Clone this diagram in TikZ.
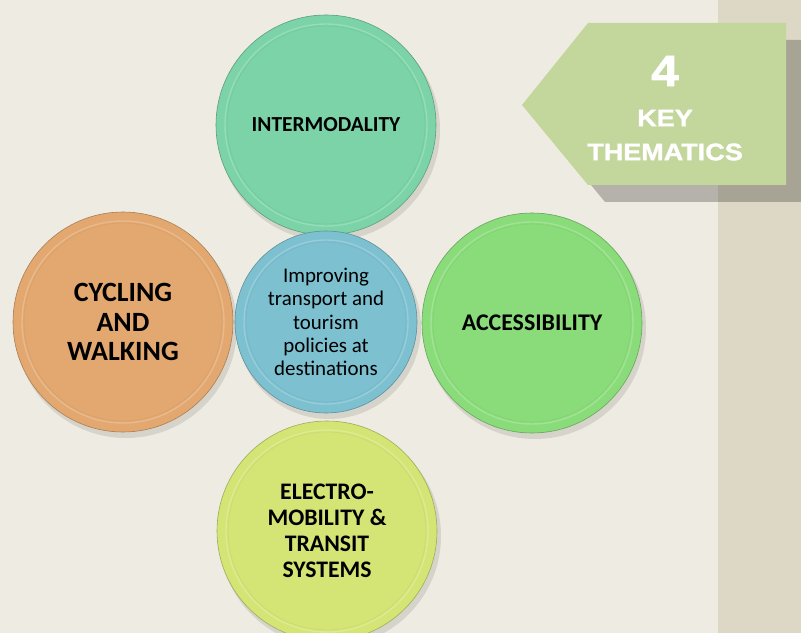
\documentclass[tikz,border=0pt]{standalone}
\usepackage{fontspec}
\setmainfont{Carlito}
\newfontfamily\arialf{Liberation Sans}[FakeStretch=1.13,FakeBold=1.5]
\definecolor{bgc}{HTML}{EEEBE2}
\definecolor{stripc}{HTML}{DDD8C5}
\definecolor{arrowc}{HTML}{C3D69B}
\definecolor{cmint}{HTML}{7BD3A7}
\definecolor{cblue}{HTML}{7DC0D0}
\definecolor{corange}{HTML}{E3A870}
\definecolor{cgreen}{HTML}{8ADC7A}
\definecolor{cyellow}{HTML}{D4E576}
\tikzset{
  bubblenode/.style={circle, inner sep=0pt, align=center, text=black},
  arrowtext/.style={text=white, font=\arialf\bfseries, align=center},
}
\newcommand\bubble[7]{%
  \fill[black,opacity=0.10] (#2+3,#3+5) circle[radius=#4+1];
  \node[bubblenode, minimum size={2*#4*1bp}, fill=#5, draw=#5!75!black, line width=0.6pt, font=#6] (#1) at (#2,#3) {#7};
  \draw[#5!55!white, line width=1.4pt, opacity=0.45] (#1.center) circle[radius=#4-9];
  \draw[#5!92!black, line width=0.8pt, opacity=0.5] (#1.center) circle[radius=#4-11];
}
\begin{document}
\begin{tikzpicture}[x=1bp,y=-1bp]
\useasboundingbox (0,0) rectangle (801,633);
\clip (0,0) rectangle (801,633);
\fill[bgc] (0,0) rectangle (801,633);
\fill[stripc] (718,0) rectangle (801,633);
% arrow with shadow
\fill[black,opacity=0.24] (539,122) -- (605,40) -- (803,40) -- (803,202) -- (605,202) -- cycle;
\fill[arrowc] (522,105) -- (588,23) -- (786,23) -- (786,185) -- (588,185) -- cycle;
\node[arrowtext, font=\arialf\bfseries\fontsize{44}{44}\selectfont] (num) at (665,71) {4};
\node[arrowtext, font=\arialf\bfseries\fontsize{24}{24}\selectfont] (key) at (665,118) {KEY};
\node[arrowtext, font=\arialf\bfseries\fontsize{24}{24}\selectfont] (them) at (665,152) {THEMATICS};
% bubbles
\bubble{top}{326}{125}{110}{cmint}{\bfseries\fontsize{21.5}{24}\selectfont}{INTERMODALITY}
\bubble{left}{123}{322}{110}{corange}{\bfseries\fontsize{28}{30}\selectfont}{CYCLING\\AND\\WALKING}
\bubble{right}{532}{323}{110}{cgreen}{\bfseries\fontsize{24}{26}\selectfont}{ACCESSIBILITY}
\bubble{bottom}{327}{531}{110}{cyellow}{\bfseries\fontsize{23.8}{26}\selectfont}{ELECTRO-\\MOBILITY \&\\TRANSIT\\SYSTEMS}
\bubble{center}{326}{322}{91}{cblue}{\fontsize{21}{23.5}\selectfont}{Improving\\transport and\\tourism\\policies at\\destinations}
\end{tikzpicture}
\end{document}
